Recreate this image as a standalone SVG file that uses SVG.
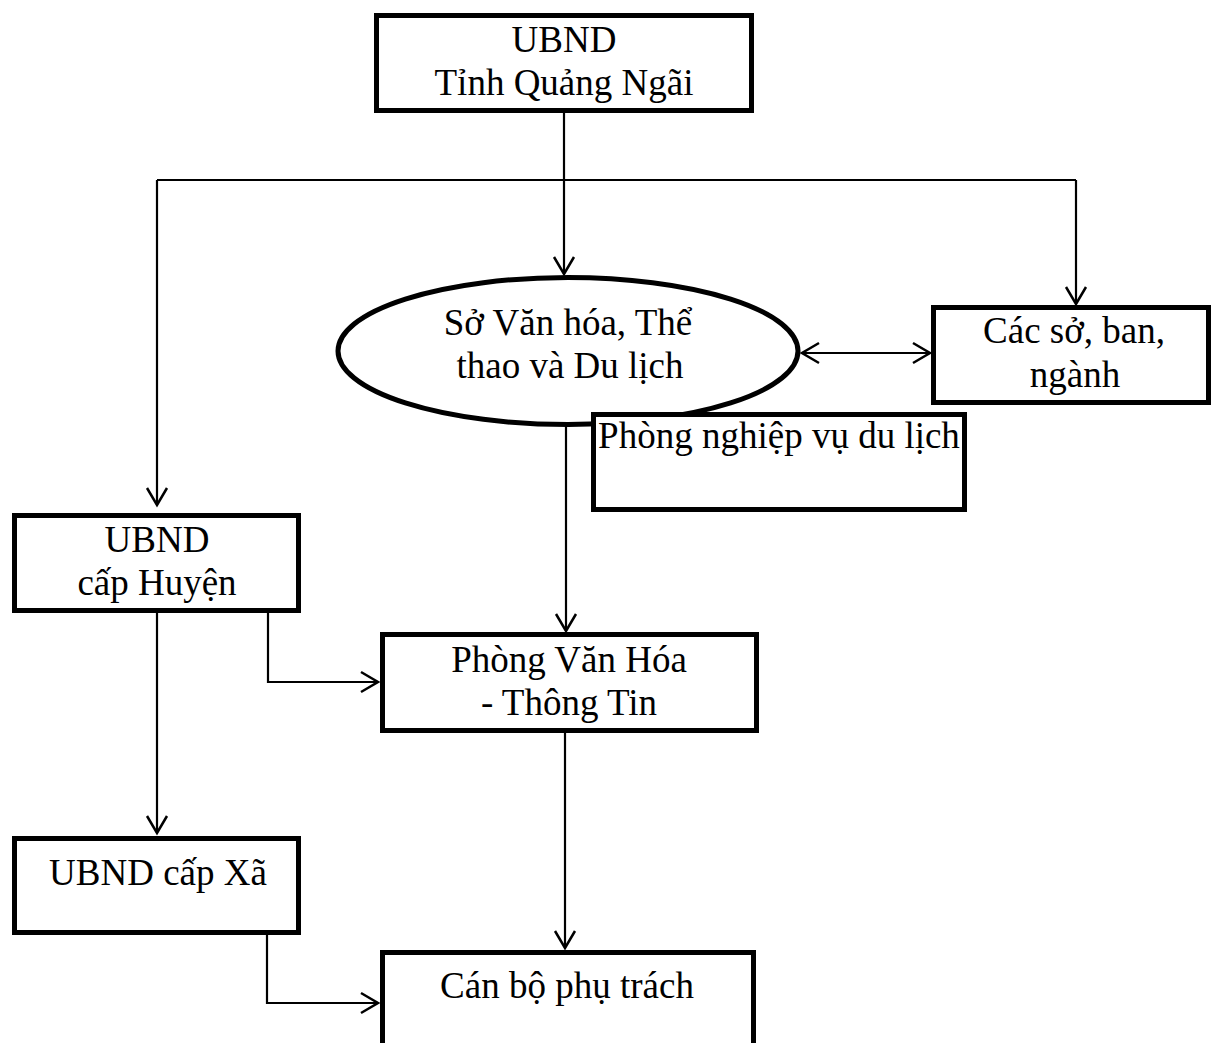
<svg xmlns="http://www.w3.org/2000/svg" width="1211" height="1043" viewBox="0 0 1211 1043">
<style>
.box{fill:#fff;stroke:#000;stroke-width:5}
.con{fill:none;stroke:#000;stroke-width:2.2}
text{font-family:"Liberation Serif","Times New Roman",serif;font-size:37px;fill:#000;text-anchor:middle}
</style>
<defs>
<marker id="arr" viewBox="-20 -12 24 24" refX="0" refY="0" markerWidth="24" markerHeight="24" markerUnits="userSpaceOnUse" orient="auto-start-reverse">
<path d="M-17,-10 L0,0 L-17,10" fill="none" stroke="#000" stroke-width="2.5"/>
</marker>
</defs>
<rect width="1211" height="1043" fill="#fff"/>
<g id="connectors">
<path class="con" d="M564,113 V274" marker-end="url(#arr)"/>
<path class="con" d="M157,180 H1076"/>
<path class="con" d="M157,180 V505" marker-end="url(#arr)"/>
<path class="con" d="M1076,180 V304" marker-end="url(#arr)"/>
<path class="con" d="M802,353 H930" marker-start="url(#arr)" marker-end="url(#arr)"/>
<path class="con" d="M566,425 V631" marker-end="url(#arr)"/>
<path class="con" d="M268,613 V682 H378" marker-end="url(#arr)"/>
<path class="con" d="M157,613 V833" marker-end="url(#arr)"/>
<path class="con" d="M565,733 V948" marker-end="url(#arr)"/>
<path class="con" d="M267,935 V1003 H378" marker-end="url(#arr)"/>
</g>
<g id="ubnd-tinh">
<rect class="box" x="376.5" y="15.5" width="375" height="95"/>
<text x="564" y="52">UBND</text>
<text x="564" y="95">Tỉnh Quảng Ngãi</text>
</g>
<g id="so-vhttdl">
<ellipse class="box" cx="568" cy="351" rx="230" ry="73.5"/>
<text x="568" y="335">Sở Văn hóa, Thể</text>
<text x="570" y="378">thao và Du lịch</text>
</g>
<g id="cac-so">
<rect class="box" x="933.5" y="307.5" width="275" height="95"/>
<text x="1074" y="343">Các sở, ban,</text>
<text x="1075" y="387">ngành</text>
</g>
<g id="phong-nghiep-vu">
<rect class="box" x="593.5" y="414.5" width="371" height="95"/>
<text x="779" y="448">Phòng nghiệp vụ du lịch</text>
</g>
<g id="ubnd-huyen">
<rect class="box" x="14.5" y="515.5" width="284" height="95"/>
<text x="157" y="552">UBND</text>
<text x="157" y="595">cấp Huyện</text>
</g>
<g id="phong-vhtt">
<rect class="box" x="382.5" y="634.5" width="374" height="96"/>
<text x="569" y="672">Phòng Văn Hóa</text>
<text x="569" y="715">- Thông Tin</text>
</g>
<g id="ubnd-xa">
<rect class="box" x="14.5" y="838.5" width="284" height="94"/>
<text x="158" y="885">UBND cấp Xã</text>
</g>
<g id="can-bo">
<rect class="box" x="382.5" y="952.5" width="371" height="120"/>
<text x="567" y="998">Cán bộ phụ trách</text>
</g>
</svg>
